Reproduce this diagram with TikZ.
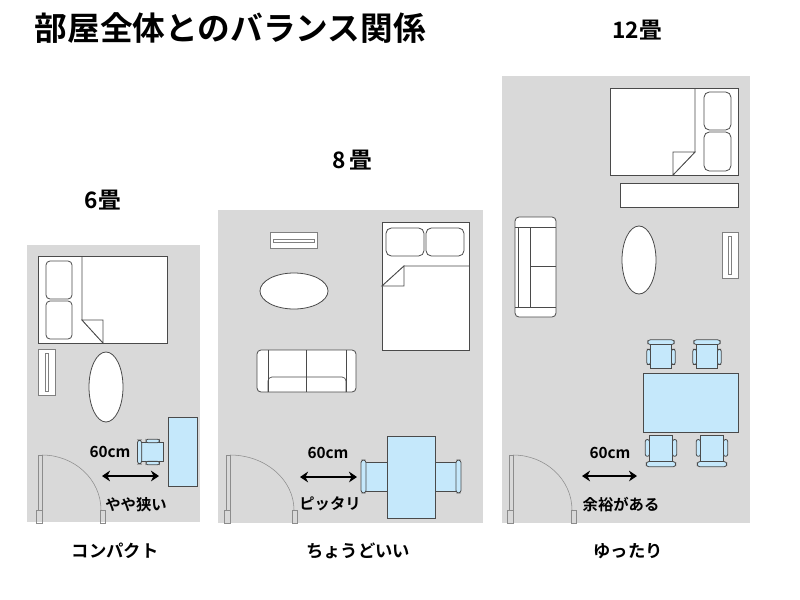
\documentclass[tikz,border=0pt]{standalone}
\usepackage{fontspec}
\setmainfont{Noto Sans CJK JP}[BoldFont={* Bold}]
\usetikzlibrary{arrows.meta}
\definecolor{room}{HTML}{D9D9D9}
\definecolor{blu}{HTML}{C5E8FB}
\definecolor{edge}{HTML}{4A4A4A}
\tikzset{
 furn/.style={draw=edge,fill=white,line width=0.6pt},
 bluf/.style={draw=edge,fill=blu,line width=0.6pt},
 doorl/.style={draw=gray!90,line width=0.4pt},
 gap/.style={{Stealth[length=6pt,width=8pt]}-{Stealth[length=6pt,width=8pt]},line width=2.2pt},
 lbl/.style={font=\bfseries\fontsize{11.5}{12}\selectfont},
 captxt/.style={font=\bfseries\fontsize{13}{14}\selectfont},
 tit/.style={font=\bfseries\fontsize{17}{18}\selectfont},
 chair/.pic={
  \draw[bluf] (-11,-11) rectangle (11,14);
  \draw[bluf,rounded corners=1.5] (-15,-6) rectangle (-11,10);
  \draw[bluf,rounded corners=1.5] (11,-6) rectangle (15,10);
  \draw[bluf,rounded corners=2] (-14,-16) rectangle (14,-11);
 }
}
\begin{document}
\begin{tikzpicture}[x=0.75pt,y=-0.75pt]
\useasboundingbox (0,0) rectangle (800,600);
\node[anchor=west,font=\bfseries\fontsize{24.5}{26}\selectfont] (title) at (30,28) {部屋全体とのバランス関係};
% rooms
\fill[room] (27,245) rectangle (200,522);
\fill[room] (218,210) rectangle (483,523);
\fill[room] (502,76) rectangle (750,523);
\node[tit] (t6) at (103,200) {6畳};
\node[tit] (t8) at (352,160) {8\,畳};
\node[tit] (t12) at (637,30) {12畳};
\node[captxt] (c1) at (115,551) {コンパクト};
\node[captxt] (c2) at (358,551) {ちょうどいい};
\node[captxt] (c3) at (628,551) {ゆったり};
% ---- room 1 ----
\draw[furn] (38,256) rectangle (167,343);
\draw[edge,line width=0.6pt] (82,256) -- (82,320) -- (103,343);
\draw[furn] (82,320) -- (103,320) -- (103,343) -- cycle;
\draw[furn,rounded corners=3] (46,261) rectangle (72,299);
\draw[furn,rounded corners=3] (46,301) rectangle (72,339);
\draw[furn,draw=gray] (38,349) rectangle (55,395);
\draw[furn,draw=gray] (45,353) rectangle (48,391);
\draw[furn] (106,387) ellipse [x radius=17,y radius=35];
\draw[bluf] (168,417) rectangle (197,486);
\pic[rotate=90,scale=0.85] at (151,452) {chair};
\draw[doorl] (38,455) rectangle (42,510) (36,510) rectangle (42,523) (100,510) rectangle (105,523);
\draw[doorl] (42,455) arc[start angle=-90,end angle=0,x radius=59,y radius=55];
\node[lbl] (m1) at (110,452) {60cm};
\coordinate (a1l) at (102,476); \coordinate (a1r) at (159,476);
\draw[gap] (a1l) -- (a1r);
\node[lbl] (s1) at (136,505) {やや狭い};
% ---- room 2 ----
\draw[furn,draw=gray] (270,232) rectangle (317,248);
\draw[furn,draw=gray] (273,239) rectangle (314,242);
\draw[furn] (294,291) ellipse [x radius=34,y radius=18];
\draw[furn] (382,222) rectangle (469,350);
\draw[furn,rounded corners=4] (386,228) rectangle (424,256);
\draw[furn,rounded corners=4] (426,228) rectangle (464,256);
\draw[edge,line width=0.6pt] (469,266) -- (404,266) -- (382,286);
\draw[furn] (404,266) -- (404,286) -- (382,286) -- cycle;
\draw[furn,rounded corners=3] (257,350) rectangle (356,392);
\draw[edge,line width=0.5pt] (268,350) -- (268,392) (346,350) -- (346,392) (306,350) -- (306,392);
\draw[edge,line width=0.5pt,rounded corners=3] (268,392) -- (268,377) -- (346,377) -- (346,392);
\draw[bluf] (363,462) rectangle (387,491);
\draw[bluf] (435,462) rectangle (459,491);
\draw[bluf,rounded corners=2] (361,460) rectangle (366,493);
\draw[bluf,rounded corners=2] (456,460) rectangle (461,493);
\draw[bluf] (387,436) rectangle (435,518);
\draw[doorl] (226,455) rectangle (230,510) (224,510) rectangle (230,523) (292,510) rectangle (297,523);
\draw[doorl] (230,455) arc[start angle=-90,end angle=0,x radius=64,y radius=55];
\node[lbl] (m2) at (328,453) {60cm};
\coordinate (a2l) at (300,477); \coordinate (a2r) at (357,477);
\draw[gap] (a2l) -- (a2r);
\node[lbl] (s2) at (330,504) {ピッタリ};
% ---- room 3 ----
\draw[furn] (610,88) rectangle (738,175);
\draw[edge,line width=0.6pt] (695,88) -- (695,152) -- (673,175);
\draw[furn] (695,152) -- (673,152) -- (673,175) -- cycle;
\draw[furn,rounded corners=4] (704,92) rectangle (731,130);
\draw[furn,rounded corners=4] (704,132) rectangle (731,171);
\draw[furn] (620,183) rectangle (738,207);
\draw[furn,rounded corners=3] (515,217) rectangle (556,317);
\draw[edge,line width=0.5pt] (515,227) -- (556,227) (515,307) -- (556,307) (530,266) -- (556,266);
\draw[edge,line width=0.5pt,rounded corners=3] (530,227) -- (530,307);
\draw[edge,line width=0.5pt,rounded corners=3] (518,227) -- (518,307);
\draw[furn] (639,260) ellipse [x radius=17,y radius=34];
\draw[furn,draw=gray] (722,232) rectangle (738,278);
\draw[furn,draw=gray] (728,236) rectangle (731,274);
\pic[scale=0.95] at (661,355) {chair};
\pic[scale=0.95] at (707,355) {chair};
\pic[rotate=180,scale=1.05] at (661,450) {chair};
\pic[rotate=180,scale=1.05] at (712,450) {chair};
\draw[bluf] (643,373) rectangle (738,432);
\draw[doorl] (509,455) rectangle (513,510) (507,510) rectangle (513,523) (571,510) rectangle (576,523);
\draw[doorl] (513,455) arc[start angle=-90,end angle=0,x radius=59,y radius=55];
\node[lbl] (m3) at (610,453) {60cm};
\coordinate (a3l) at (582,476); \coordinate (a3r) at (637,476);
\draw[gap] (a3l) -- (a3r);
\node[lbl] (s3) at (621,505) {余裕がある};
\end{tikzpicture}
\end{document}
